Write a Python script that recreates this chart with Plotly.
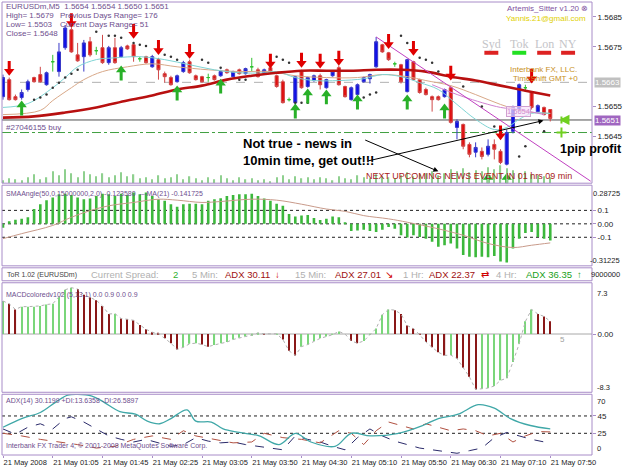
import plotly.graph_objects as go

# ---------------- DATA ----------------
time_ticks = [0, 8, 16, 24, 32, 40, 48, 56, 64, 72, 80, 88]
time_labels = ["21 May 2008", "21 May 01:05", "21 May 01:45", "21 May 02:25", "21 May 03:05",
               "21 May 03:50", "21 May 04:30", "21 May 05:10", "21 May 05:50", "21 May 06:30",
               "21 May 07:10", "21 May 07:50"]

opens = [1.56583, 1.56640, 1.56583, 1.56580, 1.56607, 1.56647, 1.56657, 1.56623, 1.56700, 1.56667,
         1.56747, 1.56807, 1.56723, 1.56717, 1.56767, 1.56737, 1.56747, 1.56697, 1.56747, 1.56717,
         1.56753, 1.56757, 1.56710, 1.56717, 1.56683, 1.56707, 1.56660, 1.56647, 1.56633, 1.56667,
         1.56700, 1.56653, 1.56650, 1.56647, 1.56653, 1.56653, 1.56673, 1.56650, 1.56673, 1.56660,
         1.56683, 1.56673, 1.56663, 1.56680, 1.56653, 1.56633, 1.56573, 1.56563, 1.56667, 1.56617,
         1.56637, 1.56653, 1.56613, 1.56653, 1.56680, 1.56617, 1.56573, 1.56590, 1.56633, 1.56643,
         1.56683, 1.56757, 1.56730, 1.56693, 1.56690, 1.56600, 1.56700, 1.56640, 1.56607, 1.56583,
         1.56583, 1.56583, 1.56613, 1.56480, 1.56490, 1.56423, 1.56397, 1.56400, 1.56390, 1.56423,
         1.56400, 1.56357, 1.56467, 1.56540, 1.56613, 1.56597, 1.56533, 1.56547, 1.56540]
highs = [1.56657, 1.56647, 1.56590, 1.56607, 1.56640, 1.56650, 1.56683, 1.56667, 1.56723, 1.56763,
         1.56823, 1.56813, 1.56763, 1.56773, 1.56783, 1.56750, 1.56790, 1.56753, 1.56780, 1.56753,
         1.56757, 1.56763, 1.56717, 1.56720, 1.56723, 1.56713, 1.56667, 1.56653, 1.56657, 1.56703,
         1.56707, 1.56657, 1.56653, 1.56660, 1.56657, 1.56673, 1.56677, 1.56670, 1.56677, 1.56680,
         1.56713, 1.56680, 1.56677, 1.56683, 1.56657, 1.56640, 1.56580, 1.56653, 1.56673, 1.56650,
         1.56657, 1.56660, 1.56643, 1.56670, 1.56687, 1.56620, 1.56617, 1.56627, 1.56650, 1.56660,
         1.56783, 1.56760, 1.56733, 1.56700, 1.56693, 1.56710, 1.56703, 1.56643, 1.56613, 1.56587,
         1.56587, 1.56610, 1.56620, 1.56507, 1.56493, 1.56430, 1.56430, 1.56413, 1.56440, 1.56440,
         1.56407, 1.56473, 1.56553, 1.56627, 1.56623, 1.56600, 1.56557, 1.56550, 1.56540]
lows = [1.56573, 1.56570, 1.56570, 1.56573, 1.56600, 1.56630, 1.56630, 1.56620, 1.56667, 1.56650,
        1.56740, 1.56730, 1.56700, 1.56667, 1.56717, 1.56723, 1.56693, 1.56690, 1.56693, 1.56713,
        1.56740, 1.56700, 1.56700, 1.56693, 1.56680, 1.56640, 1.56630, 1.56620, 1.56630, 1.56663,
        1.56660, 1.56637, 1.56630, 1.56633, 1.56637, 1.56650, 1.56660, 1.56647, 1.56657, 1.56657,
        1.56667, 1.56647, 1.56660, 1.56663, 1.56613, 1.56560, 1.56567, 1.56553, 1.56610, 1.56613,
        1.56633, 1.56607, 1.56610, 1.56650, 1.56620, 1.56580, 1.56570, 1.56587, 1.56630, 1.56627,
        1.56680, 1.56730, 1.56703, 1.56683, 1.56627, 1.56597, 1.56637, 1.56593, 1.56587, 1.56533,
        1.56570, 1.56580, 1.56493, 1.56440, 1.56407, 1.56380, 1.56380, 1.56373, 1.56383, 1.56373,
        1.56357, 1.56353, 1.56460, 1.56533, 1.56600, 1.56540, 1.56530, 1.56520, 1.56500]
closes = [1.56647, 1.56573, 1.56573, 1.56597, 1.56633, 1.56633, 1.56633, 1.56663, 1.56700, 1.56733,
          1.56813, 1.56733, 1.56703, 1.56763, 1.56723, 1.56737, 1.56697, 1.56747, 1.56697, 1.56747,
          1.56743, 1.56717, 1.56710, 1.56697, 1.56717, 1.56673, 1.56650, 1.56623, 1.56653, 1.56697,
          1.56663, 1.56640, 1.56633, 1.56647, 1.56640, 1.56667, 1.56663, 1.56667, 1.56660, 1.56677,
          1.56683, 1.56650, 1.56673, 1.56667, 1.56617, 1.56563, 1.56573, 1.56650, 1.56613, 1.56647,
          1.56653, 1.56623, 1.56640, 1.56667, 1.56623, 1.56583, 1.56613, 1.56623, 1.56647, 1.56657,
          1.56767, 1.56733, 1.56707, 1.56693, 1.56633, 1.56707, 1.56640, 1.56597, 1.56590, 1.56573,
          1.56573, 1.56607, 1.56497, 1.56500, 1.56417, 1.56390, 1.56413, 1.56383, 1.56417, 1.56407,
          1.56363, 1.56463, 1.56547, 1.56623, 1.56613, 1.56547, 1.56553, 1.56523, 1.56510]

volumes = [3, 5, 4, 3, 6, 9, 4, 6, 12, 8,
           14, 10, 6, 12, 9, 7, 10, 6, 8, 11,
           7, 9, 5, 6, 4, 8, 5, 6, 9, 4,
           7, 5, 3, 6, 4, 8, 5, 3, 6, 4,
           5, 3, 4, 2, 6, 8, 4, 7, 5, 6,
           4, 6, 5, 3, 7, 5, 4, 8, 6, 5,
           9, 7, 6, 5, 8, 11, 7, 9, 10, 12,
           8, 10, 14, 12, 15, 11, 13, 12, 16, 14,
           18, 15, 13, 10, 12, 9, 8, 7, 6]

ma_slow_x = [0, 5, 10, 15, 20, 24, 28, 32, 36, 40, 44, 48, 52, 56, 60, 64, 68, 72, 76, 80, 84, 88]
ma_slow_y = [1.56513, 1.56517, 1.56530, 1.56547, 1.56570, 1.56587, 1.56607, 1.56620, 1.56640, 1.56653,
             1.56663, 1.56670, 1.56670, 1.56670, 1.56673, 1.56673, 1.56667, 1.56650, 1.56637, 1.56620,
             1.56603, 1.56587]
ma_mid_x = [0, 6, 8, 11, 13, 16, 20, 24, 28, 33, 38, 43, 47, 52, 57, 61, 65, 68, 72, 76, 80, 84, 88]
ma_mid_y = [1.56523, 1.56537, 1.56570, 1.56613, 1.56640, 1.56667, 1.56683, 1.56693, 1.56683, 1.56673,
            1.56667, 1.56667, 1.56653, 1.56647, 1.56647, 1.56657, 1.56650, 1.56637, 1.56620, 1.56590,
            1.56557, 1.56533, 1.56527]
ma_fast_x = [0, 4, 8, 10, 12, 15, 18, 22, 26, 30, 34, 38, 42, 44, 47, 50, 54, 58, 61, 64, 67, 70,
             73, 76, 79, 81, 83, 85, 88]
ma_fast_y = [1.56547, 1.56560, 1.56613, 1.56647, 1.56683, 1.56707, 1.56713, 1.56717, 1.56707, 1.56690,
             1.56673, 1.56663, 1.56663, 1.56667, 1.56647, 1.56637, 1.56637, 1.56643, 1.56657, 1.56650,
             1.56630, 1.56607, 1.56557, 1.56507, 1.56473, 1.56480, 1.56507, 1.56527, 1.56527]
ma_violet_x = [69, 74, 80, 83, 87]
ma_violet_y = [1.56623, 1.56583, 1.56547, 1.56540, 1.56523]
trend_x = [60, 94.5]
trend_y = [1.56783, 1.56300]

sar_x = [5, 6, 7, 8, 9, 10, 11, 12, 15, 17, 18, 19, 21, 22, 23, 26, 27, 28, 32, 33, 35, 38, 39,
         44, 45, 46, 47, 48, 49, 58, 59, 60, 64, 65, 67, 68, 69, 70, 72, 74, 77, 79, 83, 84, 87]
sar_y = [1.56573, 1.56580, 1.56590, 1.56613, 1.56630, 1.56647, 1.56660, 1.56673, 1.56800, 1.56787,
         1.56787, 1.56780, 1.56763, 1.56757, 1.56753, 1.56723, 1.56717, 1.56707, 1.56707, 1.56697,
         1.56680, 1.56640, 1.56640, 1.56717, 1.56707, 1.56697, 1.56563, 1.56563, 1.56563, 1.56580,
         1.56590, 1.56597, 1.56787, 1.56763, 1.56713, 1.56707, 1.56697, 1.56667, 1.56650, 1.56617,
         1.56550, 1.56483, 1.56383, 1.56417, 1.56467]

sell_x = [1, 11, 21, 25, 30, 43, 48, 51, 54, 62, 66, 72, 80, 85]
sell_y = [1.56673, 1.56833, 1.56797, 1.56743, 1.56730, 1.56697, 1.56700, 1.56697, 1.56707, 1.56763,
          1.56740, 1.56657, 1.56457, 1.56647]
buy_x = [3, 19, 28, 35, 47, 49, 52, 57, 65, 71, 78, 81]
buy_y = [1.56550, 1.56667, 1.56600, 1.56623, 1.56540, 1.56590, 1.56587, 1.56570, 1.56570, 1.56540,
         1.56307, 1.56307]

bid_price = 1.56505
entry_price = 1.56463
level_price = 1.56631

sma_angle = [-0.03, 0.02, 0.03, 0.037, 0.049, 0.11, 0.146, 0.176, 0.195, 0.22,
             0.224, 0.215, 0.195, 0.183, 0.188, 0.207, 0.224, 0.22, 0.207, 0.224,
             0.215, 0.232, 0.22, 0.232, 0.207, 0.183, 0.171, 0.146, 0.127, 0.146,
             0.15, 0.15, 0.146, 0.171, 0.183, 0.19, 0.207, 0.215, 0.22, 0.22,
             0.224, 0.207, 0.188, 0.171, 0.15, 0.134, 0.073, 0.054, 0.061, 0.066,
             0.044, 0.029, 0.037, 0.054, 0.049, 0.005, -0.054, -0.049, -0.044, -0.054,
             -0.061, -0.044, -0.024, -0.037, -0.085, -0.102, -0.085, -0.098, -0.110, -0.134,
             -0.171, -0.159, -0.146, -0.183, -0.232, -0.244, -0.249, -0.244, -0.249, -0.239,
             -0.280, -0.288, -0.183, -0.110, -0.068, -0.061, -0.098, -0.110, -0.1236]
sma_ma_x = [0, 3, 8, 11, 14, 17, 21, 25, 28, 32, 35, 40, 44, 48, 52, 55, 58, 62, 65, 70, 74, 78, 82, 85, 88]
sma_ma_y = [-0.11, -0.073, -0.012, 0.049, 0.098, 0.134, 0.159, 0.183, 0.176, 0.159, 0.166, 0.183, 0.176,
            0.146, 0.110, 0.093, 0.061, 0.037, 0.012, -0.037, -0.085, -0.146, -0.176, -0.159, -0.1417]

macd = [4.7, 4.3, 3.5, 3.9, 3.9, 3.9, 4.0, 4.2, 4.3, 5.3,
        6.3, 6.6, 6.4, 5.6, 5.2, 4.8, 4.0, 2.85, 2.9, 2.2,
        2.1, 1.95, 1.3, 0.67, 0.26, 0.05, -0.62, -1.3, -2.2, -1.9,
        -1.4, -1.3, -1.5, -1.8, -1.55, -1.3, -1.15, -0.78, -0.52, -0.36,
        -0.16, 0.15, 0.02, 0.0, 0.03, -0.78, -2.4, -3.05, -1.8, -1.5,
        -1.0, -0.62, -0.36, -0.1, 0.36, 0.0, -1.0, -1.3, -1.0, -0.1,
        0.78, 2.75, 3.5, 3.4, 2.85, 1.2, 0.78, -0.1, -1.15, -1.9,
        -2.6, -3.05, -3.0, -3.5, -4.8, -6.1, -7.9, -7.8, -7.7, -7.4,
        -6.6, -6.3, -4.0, -1.4, 1.8, 3.5, 2.85, 2.5, 1.8]

adx_x = [0, 3, 6, 8.5, 10.4, 12, 14.3, 16.2, 18.8, 21.3, 23.2, 25.2, 27, 29.6, 31, 33.5, 35.4, 38,
         41.2, 44.4, 47, 49.5, 53.4, 56, 59.1, 63.6, 67.5, 70, 73.2, 76.4, 79, 81.6, 84.8, 88]
adx_y = [32, 42, 49, 61, 69, 70, 68, 61, 50, 47, 39, 36, 42, 52, 39, 38, 30, 26,
         22, 12, 25, 15, 10, 25, 22, 25, 34, 42, 47, 58, 54, 42, 34, 30.1]
pdi_x = [0, 2, 4, 6, 8, 10, 11, 13, 15, 17, 19, 21, 23, 25, 27, 29, 31, 33, 35, 37, 39, 41, 43, 45,
         47, 49, 51, 53, 55, 57, 59, 61, 63, 65, 67, 69, 71, 73, 75, 77, 79, 81, 83, 85, 88]
pdi_y = [30, 24, 32, 36, 30, 42, 44, 38, 30, 22, 18, 15, 18, 14, 10, 12, 20, 16, 14, 15, 12, 10, 8, 6,
         22, 18, 15, 10, 6, 20, 30, 22, 16, 12, 8, 6, 4, 2, 5, 8, 20, 26, 22, 18, 13.6]
mdi_x = [0, 3, 6, 9, 12, 15, 18, 21, 24, 27, 29, 31, 34, 37, 40, 42, 45, 48, 51, 54, 56, 58, 60, 62,
         64, 66, 68, 70, 72, 74, 76, 78, 80, 82, 84, 86, 88]
mdi_y = [25, 22, 18, 15, 12, 8, 10, 18, 22, 18, 28, 22, 18, 14, 15, 25, 20, 18, 14, 28, 25, 12, 28, 38,
         34, 30, 36, 32, 28, 30, 28, 22, 25, 15, 22, 27, 26.6]

# ---------------- LAYOUT HELPERS ----------------
W, H = 625, 469
ML, MR, MT, MB = 2, 31, 2, 12
PW = W - ML - MR
PH = H - MT - MB
FRAME = "#a88cc8"
FONT = "Liberation Sans"
PRICE_PER_PX = (1.5690 - 1.562933) / 182.0


def px(x):
    return (x - ML) / PW


def py(y):
    return (H - MB - y) / PH


bars = list(range(len(opens)))
fig = go.Figure()

# volume
fig.add_trace(go.Bar(x=bars, y=volumes, yaxis="y5", width=0.2, marker_color="#8fd08f",
                     marker_line_width=0))
# moving averages
fig.add_trace(go.Scatter(x=ma_mid_x, y=ma_mid_y, mode="lines", line=dict(color="#d8a888", width=1, shape="spline")))
fig.add_trace(go.Scatter(x=ma_fast_x, y=ma_fast_y, mode="lines", line=dict(color="#7fd4d4", width=1, shape="spline")))
fig.add_trace(go.Scatter(x=ma_violet_x, y=ma_violet_y, mode="lines", line=dict(color="#d080d0", width=1, shape="spline")))
fig.add_trace(go.Scatter(x=ma_slow_x, y=ma_slow_y, mode="lines", line=dict(color="#b81010", width=2.6, shape="spline")))
fig.add_trace(go.Scatter(x=trend_x, y=trend_y, mode="lines", line=dict(color="#c040c0", width=1)))


def pick(cond):
    idx = [i for i in bars if cond(i)]
    return dict(x=idx, open=[opens[i] for i in idx], high=[highs[i] for i in idx],
                low=[lows[i] for i in idx], close=[closes[i] for i in idx])


for cond, fill, line in [
    (lambda i: closes[i] > opens[i], "#1010e8", "#3838c8"),
    (lambda i: closes[i] < opens[i], "#e01010", "#d04848"),
    (lambda i: closes[i] == opens[i], "#30c030", "#30c030"),
]:
    fig.add_trace(go.Candlestick(**pick(cond),
                                 increasing=dict(fillcolor=fill, line=dict(color=line, width=1)),
                                 decreasing=dict(fillcolor=fill, line=dict(color=line, width=1)),
                                 whiskerwidth=0, showlegend=False))

# SAR dots
fig.add_trace(go.Scatter(x=sar_x, y=sar_y, mode="markers", marker=dict(color="#333333", size=2.5)))

# signal arrows: shaft + head
off = 4 * PRICE_PER_PX
fig.add_trace(go.Scatter(x=sell_x, y=[v + off for v in sell_y], mode="markers",
                         marker=dict(symbol="line-ns", size=7, line=dict(color="#e00000", width=3))))
fig.add_trace(go.Scatter(x=sell_x, y=[v - 1.5 * PRICE_PER_PX for v in sell_y], mode="markers",
                         marker=dict(symbol="triangle-down", color="#e00000", size=9, line=dict(width=0))))
fig.add_trace(go.Scatter(x=buy_x, y=[v - off for v in buy_y], mode="markers",
                         marker=dict(symbol="line-ns", size=7, line=dict(color="#28b028", width=3))))
fig.add_trace(go.Scatter(x=buy_x, y=[v + 1.5 * PRICE_PER_PX for v in buy_y], mode="markers",
                         marker=dict(symbol="triangle-up", color="#28b028", size=9, line=dict(width=0))))
# trade markers
fig.add_trace(go.Scatter(x=[89.8, 89.8], y=[bid_price, entry_price], mode="markers",
                         marker=dict(symbol=["arrow-bar-left", "cross-thin"], color="#70d020", size=7,
                                     line=dict(color="#70d020", width=2))))

# SMA angle panel
fig.add_trace(go.Bar(x=bars, y=sma_angle, yaxis="y2", width=0.42, marker_color="#3cb83c",
                     marker_line_width=0))
fig.add_trace(go.Scatter(x=sma_ma_x, y=sma_ma_y, yaxis="y2", mode="lines",
                         line=dict(color="#c89a8a", width=1, shape="spline")))

# MACD panel
macd_colors = ["#7ad67a"] + ["#7ad67a" if macd[i] >= macd[i - 1] else "#8a1818" for i in range(1, len(macd))]
fig.add_trace(go.Bar(x=bars, y=macd, yaxis="y3", width=0.2, marker_color=macd_colors, marker_line_width=0))
fig.add_trace(go.Scatter(x=bars, y=macd, yaxis="y3", mode="lines",
                         line=dict(color="#b0b0b0", width=1, dash="dot")))

# ADX panel
fig.add_trace(go.Scatter(x=pdi_x, y=pdi_y, yaxis="y4", mode="lines",
                         line=dict(color="#2a2a6a", width=1, dash="dash")))
fig.add_trace(go.Scatter(x=mdi_x, y=mdi_y, yaxis="y4", mode="lines",
                         line=dict(color="#b05040", width=1, dash="dash")))
fig.add_trace(go.Scatter(x=adx_x, y=adx_y, yaxis="y4", mode="lines",
                         line=dict(color="#40a8a8", width=1.3, shape="spline")))

tickfont = dict(family=FONT, size=8, color="#222222")
yax_common = dict(side="right", anchor="x", showgrid=False, zeroline=False, ticks="outside",
                  ticklen=3, tickcolor=FRAME, tickfont=tickfont, showline=False, fixedrange=True)

fig.update_layout(
    width=W, height=H, margin=dict(l=ML, r=MR, t=MT, b=MB),
    paper_bgcolor="white", plot_bgcolor="white", showlegend=False, barmode="overlay",
    font=dict(family=FONT, size=9),
    xaxis=dict(domain=[0, 1], range=[-0.16, 94.71], anchor="y4", tickvals=time_ticks, ticktext=time_labels,
               ticklabelposition="outside right", tickangle=0, ticks="outside", ticklen=2, tickcolor=FRAME,
               showgrid=False, zeroline=False, showline=False,
               tickfont=dict(family=FONT, size=7.5, color="#222222"),
               rangeslider=dict(visible=False)),
    yaxis=dict(domain=[py(184), 1], range=[1.562933, 1.5690], tickvals=[1.5645, 1.5655, 1.5675, 1.5685],
               ticktext=["1.5645", "1.5655", "1.5675", "1.5685"], **yax_common),
    yaxis5=dict(domain=[py(184), 1], overlaying="y", range=[0, 182], visible=False),
    yaxis2=dict(domain=[py(267), py(186)], range=[-0.31225, 0.28725], tickvals=[0.1, 0, -0.1],
                ticktext=["0.1", "0.00", "-0.1"], **yax_common),
    yaxis3=dict(domain=[py(394), py(284)], range=[-8.3, 7.3], tickvals=[0], ticktext=["0.00"], **yax_common),
    yaxis4=dict(domain=[0, py(396)], range=[0, 70], tickvals=[45, 25], ticktext=["45", "25"], **yax_common),
)

shapes = []
for top, bot in [(2, 184), (186, 267), (269, 282), (284, 394), (396, 457)]:
    shapes.append(dict(type="rect", xref="paper", yref="paper", x0=0, x1=1, y0=py(bot), y1=py(top),
                       line=dict(color=FRAME, width=1), layer="above"))
shapes.append(dict(type="line", xref="paper", x0=0, x1=1, yref="y", y0=level_price, y1=level_price,
                   line=dict(color="#b0b0b0", width=1, dash="dash"), layer="below"))
shapes.append(dict(type="line", xref="paper", x0=0, x1=1, yref="y", y0=bid_price, y1=bid_price,
                   line=dict(color="#505050", width=1), layer="below"))
shapes.append(dict(type="line", xref="paper", x0=0, x1=1, yref="y", y0=entry_price, y1=entry_price,
                   line=dict(color="#40a040", width=1, dash="dashdot"), layer="below"))
for lv in [0.1, 0, -0.1]:
    shapes.append(dict(type="line", xref="paper", x0=0, x1=1, yref="y2", y0=lv, y1=lv,
                       line=dict(color="#202020", width=1, dash="dot"), layer="below"))
shapes.append(dict(type="line", xref="paper", x0=0, x1=1, yref="y3", y0=0, y1=0,
                   line=dict(color="#a8a8a8", width=1), layer="below"))
for lv in [45, 25]:
    shapes.append(dict(type="line", xref="paper", x0=0, x1=1, yref="y4", y0=lv, y1=lv,
                       line=dict(color="#202020", width=1, dash="dot"), layer="below"))
for cx, col in [(493, "#dd2222"), (521, "#22e022"), (546, "#dd2222"), (570, "#dd2222")]:
    shapes.append(dict(type="rect", xref="paper", yref="paper", x0=px(cx - 7), x1=px(cx + 7),
                       y0=py(55), y1=py(51), fillcolor=col, line=dict(width=0)))
fig.update_layout(shapes=shapes)

ann = []


def txt(s, x, y, size=8, color="#6e4e8e", anchor="left", family=FONT, bold=False, bg=None, border=None):
    d = dict(text=("<b>%s</b>" % s) if bold else s, xref="paper", yref="paper", x=px(x), y=py(y),
             xanchor=anchor, yanchor="middle", showarrow=False,
             font=dict(family=family, size=size, color=color))
    if bg:
        d.update(bgcolor=bg, borderpad=0)
    if border:
        d.update(bordercolor=border, borderwidth=1)
    ann.append(d)


txt("EURUSDm,M5  1.5654 1.5654 1.5650 1.5651", 4, 7)
txt("High= 1.5679", 4, 16)
txt("Previous Days Range= 176", 58, 16)
txt("Low= 1.5503", 4, 25)
txt("Current Days Range= 51", 58, 25)
txt("Close= 1.5648", 4, 34)
txt("#27046155 buy", 4, 128)
txt("Artemis_Sitter v1.20 \u2297", 592, 9, color="#8050a0", anchor="right")
txt("Yannis.21@gmail.com", 590, 19, color="#e0d000", anchor="right")
for s, cx in [("Syd", 493), ("Tok", 521), ("Lon", 546), ("NY", 570)]:
    txt(s, cx, 44, size=12, color="#c4c4c8", anchor="center", family="Liberation Serif")
txt("Interbank FX, LLC.", 545, 70, size=8, color="#c8901c", anchor="center")
txt("TimeShift GMT +0", 547, 79, size=8, color="#c8901c", anchor="center")
txt("1.5654", 520, 112, size=7.5, color="#d090d0", anchor="center", bg="rgba(250,225,250,0.7)", border="#d0a0d0")
txt("Not true - news in", 242, 144, size=13, color="black", bold=True)
txt("10min time, get out!!!", 242, 161, size=13, color="black", bold=True)
txt("1pip profit", 560, 150, size=12.5, color="black", bold=True)
txt("NEXT UPCOMING NEWS EVENT IN 01 hrs 09 min", 365, 177, size=9, color="#a82020")
txt("1.5663", 596, 83, size=8, color="white", bg="#c0c0c0")
txt("1.5651", 596, 121, size=8, color="white", bg="#a066c0")
for s, y in [("7.3", 295), ("-8.3", 389), ("70", 403), ("0", 450)]:
    txt(s, 597, y, size=7.5, color="#222222")
for s, y in [("0.28725", 194), ("-0.31225", 262), ("9000000", 276)]:
    txt(s, 624, y, size=7.5, color="#222222", anchor="right")
txt("SMAAngle(50,0,15000000,2,0) -0.123580  ---MA(21) -0.141725", 4, 195, size=7)
txt("MACDcoloredv102 (5,13,1) 0.0 0.9 0.0 0.9", 4, 296, size=7)
txt("5", 560, 341, size=8, color="#a0a0a0")
txt("ADX(14) 30.1199 +DI:13.6358 -DI:26.5897", 4, 403, size=7)
txt("Interbank FX Trader 4, \u00a9 2001-2008 MetaQuotes Software Corp.", 4, 448, size=7)
txt("ToR 1.02 (EURUSDm)", 5, 276, size=7, color="#444444")
GR = "#b0b0b0"
DR = "#a01010"
for s, x, c in [("Current Spread:", 89, GR), ("2", 172, "#30b030"), ("5 Min:", 191, GR),
                ("ADX 30.11", 224, DR), ("\u2193", 274, "#d00000"), ("15 Min:", 294, GR),
                ("ADX 27.01", 334, DR), ("\u2198", 384, "#d00000"), ("1 Hr:", 402, GR),
                ("ADX 22.37", 428, DR), ("\u21c4", 481, "#d00000"), ("4 Hr:", 496, GR),
                ("ADX 36.35", 526, "#20a020"), ("\u2191", 577, "#20a020")]:
    txt(s, x, 276, size=9.5, color=c)

for tx, ty, hx, hy in [(58.0, 1.56440, 70.0, 1.56333), (58.5, 1.56367, 86.9, 1.56503)]:
    ann.append(dict(x=hx, y=hy, xref="x", yref="y", ax=tx, ay=ty, axref="x", ayref="y", text="",
                    showarrow=True, arrowhead=2, arrowsize=1, arrowwidth=1, arrowcolor="black"))

fig.update_layout(annotations=ann)
fig.write_html("out.html")
